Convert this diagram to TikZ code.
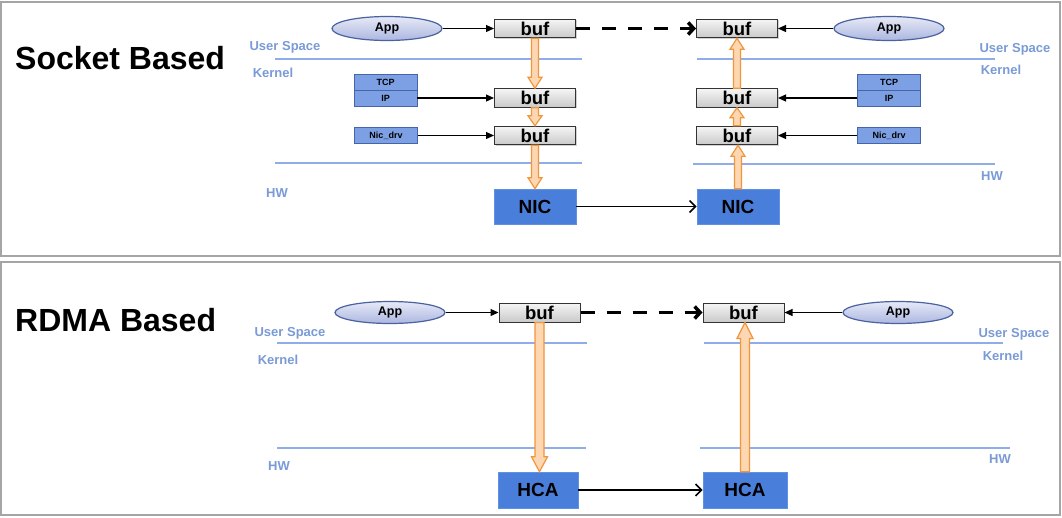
\documentclass[tikz,border=0pt]{standalone}
\usepackage{fontspec}
\setmainfont{Liberation Sans}
\usetikzlibrary{shapes.geometric,arrows.meta,calc,shadows}
\definecolor{frame}{RGB}{165,165,165}
\definecolor{lbl}{RGB}{122,155,214}
\definecolor{sep}{RGB}{143,173,232}
\definecolor{proto}{RGB}{125,160,228}
\definecolor{protob}{RGB}{70,100,170}
\definecolor{hw}{RGB}{74,126,219}
\definecolor{hwb}{RGB}{95,145,228}
\definecolor{orb}{RGB}{240,150,60}
\definecolor{orf}{RGB}{253,214,178}
\definecolor{appb}{RGB}{75,98,160}
\definecolor{appt}{RGB}{230,233,246}
\definecolor{appbot}{RGB}{172,183,224}
\newcommand\fatarr[5]{%
  \draw[fatarrow] let \p1=(#1), \p2=(#2), \p3=($(#2)!#5!(#1)$) in
   (\x1-#3,\y1) -- (\x1-#3,\y3) -- (\x1-#4,\y3) -- (\x1,\y2) -- (\x1+#4,\y3)
   -- (\x1+#3,\y3) -- (\x1+#3,\y1) -- cycle;}
\tikzset{
  panel/.style={draw=frame, line width=1.5pt},
  title/.style={font=\fontsize{32}{32}\selectfont\bfseries, inner sep=0pt},
  zlabel/.style={font=\fontsize{13}{13}\selectfont\bfseries, text=lbl, inner sep=0pt},
  sepline/.style={draw=sep, line width=1.2pt},
  app/.style={ellipse, draw=appb, line width=1.2pt, top color=appt, bottom color=appbot,
    minimum width=110pt, minimum height=24pt, inner sep=0pt,
    font=\fontsize{12.5}{12.5}\selectfont\bfseries},
  bufbox/.style={rectangle, draw=black!80, line width=1pt, top color=gray!8, bottom color=gray!42,
    minimum width=81pt, minimum height=18.5pt, inner sep=0pt,
    drop shadow={shadow xshift=1.2pt, shadow yshift=-1.2pt, opacity=0.35},
    font=\fontsize{18.5}{18.5}\selectfont\bfseries},
  protobox/.style={rectangle, draw=protob, line width=0.8pt, fill=proto,
    minimum width=63pt, minimum height=15.5pt, inner sep=0pt,
    font=\fontsize{9}{9}\selectfont\bfseries},
  hwbox/.style={rectangle, draw=hwb, line width=0.6pt, fill=hw,
    minimum width=82pt, minimum height=35pt, inner sep=0pt,
    font=\fontsize{19}{19}\selectfont\bfseries},
  thin arrow/.style={draw=black, line width=1.2pt, -{Triangle[length=8pt,width=7pt]}},
  link arrow/.style={draw=black, line width=1.6pt, -{Straight Barb[length=6pt,width=12pt]}},
  dash arrow/.style={draw=black, line width=3.5pt, dash pattern=on 14pt off 12pt,
    -{Straight Barb[length=5.5pt,width=12pt]}},
  fatarrow/.style={draw=orb, fill=orf, line width=1.2pt, line join=miter},
}
\begin{document}
\begin{tikzpicture}[x=1pt,y=-1pt]
\useasboundingbox (0,0) rectangle (1062,517);
\fill[white] (0,0) rectangle (1062,517);
% panels
\draw[panel] (1,2) rectangle (1060,256);
\draw[panel] (1,262) rectangle (1060,515);

%% ---------------- Socket based ----------------
\node[title, anchor=west] (t1) at (15,58) {Socket Based};
\draw[sepline] (275,59) -- (582,59);
\draw[sepline] (697,59) -- (995,59);
\draw[sepline] (275,163) -- (582,163);
\draw[sepline] (693,164) -- (995,164);
\node[zlabel] (usL1) at (285,47) {User Space};
\node[zlabel] (kL1) at (273,73) {Kernel};
\node[zlabel] (usR1) at (1015,49) {User Space};
\node[zlabel] (kR1) at (1001,70) {Kernel};
\node[zlabel] (hwL1) at (277,193) {HW};
\node[zlabel] (hwR1) at (992,176) {HW};

\node[app] (appL1) at (387,28.5) {App};
\node[app] (appR1) at (889,28.5) {App};
\node[protobox] (tcpL) at (385.5,82.5) {TCP};
\node[protobox, minimum height=16pt] (ipL) at (385.5,98) {IP};
\node[protobox] (tcpR) at (889,82.5) {TCP};
\node[protobox, minimum height=16pt] (ipR) at (889,98) {IP};
\node[protobox] (drvL) at (386,135.5) {Nic\_drv};
\node[protobox] (drvR) at (889,135.5) {Nic\_drv};

\node[hwbox] (nicL) at (535,206.5) {NIC};
\node[hwbox] (nicR) at (738,206.5) {NIC};

\node[bufbox] (bufL1) at (535,28.5) {buf};
\node[bufbox] (bufL2) at (535,98) {buf};
\node[bufbox] (bufL3) at (535,135.5) {buf};
\node[bufbox] (bufR1) at (737,28.5) {buf};
\node[bufbox] (bufR2) at (737,98) {buf};
\node[bufbox] (bufR3) at (737,135.5) {buf};

\draw[thin arrow] (appL1.east) -- (bufL1.west);
\draw[thin arrow] (appR1.west) -- (bufR1.east);
\draw[thin arrow] (ipL.east) -- (bufL2.west);
\draw[thin arrow] (ipR.west) -- (bufR2.east);
\draw[thin arrow] (drvL.east) -- (bufL3.west);
\draw[thin arrow] (drvR.west) -- (bufR3.east);
\draw[dash arrow] (bufL1.east) -- (bufR1.west);
\draw[link arrow] (nicL.east) -- (nicR.west);

\fatarr{bufL1.south}{bufL2.north}{3.5pt}{7pt}{11pt}
\fatarr{bufL2.south}{bufL3.north}{3.5pt}{7pt}{10pt}
\fatarr{bufL3.south}{nicL.north}{3.5pt}{7pt}{11pt}
\fatarr{nicR.north}{bufR3.south}{3.5pt}{7pt}{11pt}
\fatarr{bufR3.north}{bufR2.south}{3.5pt}{7pt}{10pt}
\fatarr{bufR2.north}{bufR1.south}{3.5pt}{7pt}{11pt}

%% ---------------- RDMA based ----------------
\node[title, anchor=west] (t2) at (15,320) {RDMA Based};
\draw[sepline] (277,343) -- (587,343);
\draw[sepline] (704,343) -- (1003,343);
\draw[sepline] (277,448) -- (586,448);
\draw[sepline] (700,448) -- (1010,448);
\node[zlabel] (usL2) at (290,333) {User Space};
\node[zlabel] (kL2) at (278,360) {Kernel};
\node[zlabel] (usR2) at (1014,334) {User Space};
\node[zlabel] (kR2) at (1003,356) {Kernel};
\node[zlabel] (hwL2) at (279,466) {HW};
\node[zlabel] (hwR2) at (1000,459) {HW};

\node[app, minimum height=22pt] (appL2) at (390,312.5) {App};
\node[app, minimum height=22pt] (appR2) at (898,312.5) {App};
\node[hwbox, minimum width=80pt, minimum height=36pt] (hcaL) at (538,490) {HCA};
\node[hwbox, minimum width=84pt, minimum height=36pt] (hcaR) at (745,490) {HCA};

\node[bufbox, minimum height=19pt] (bufL4) at (539.5,312.5) {buf};
\node[bufbox, minimum height=19pt] (bufR4) at (743.5,312.5) {buf};

\fatarr{bufL4.south}{hcaL.north}{4.5pt}{8pt}{15pt}
\fatarr{hcaR.north}{bufR4.south}{4.5pt}{8pt}{16pt}

\draw[thin arrow] (appL2.east) -- (bufL4.west);
\draw[thin arrow] (appR2.west) -- (bufR4.east);
\draw[dash arrow] (bufL4.east) -- (bufR4.west);
\draw[link arrow] (hcaL.east) -- (hcaR.west);
\end{tikzpicture}
\end{document}
